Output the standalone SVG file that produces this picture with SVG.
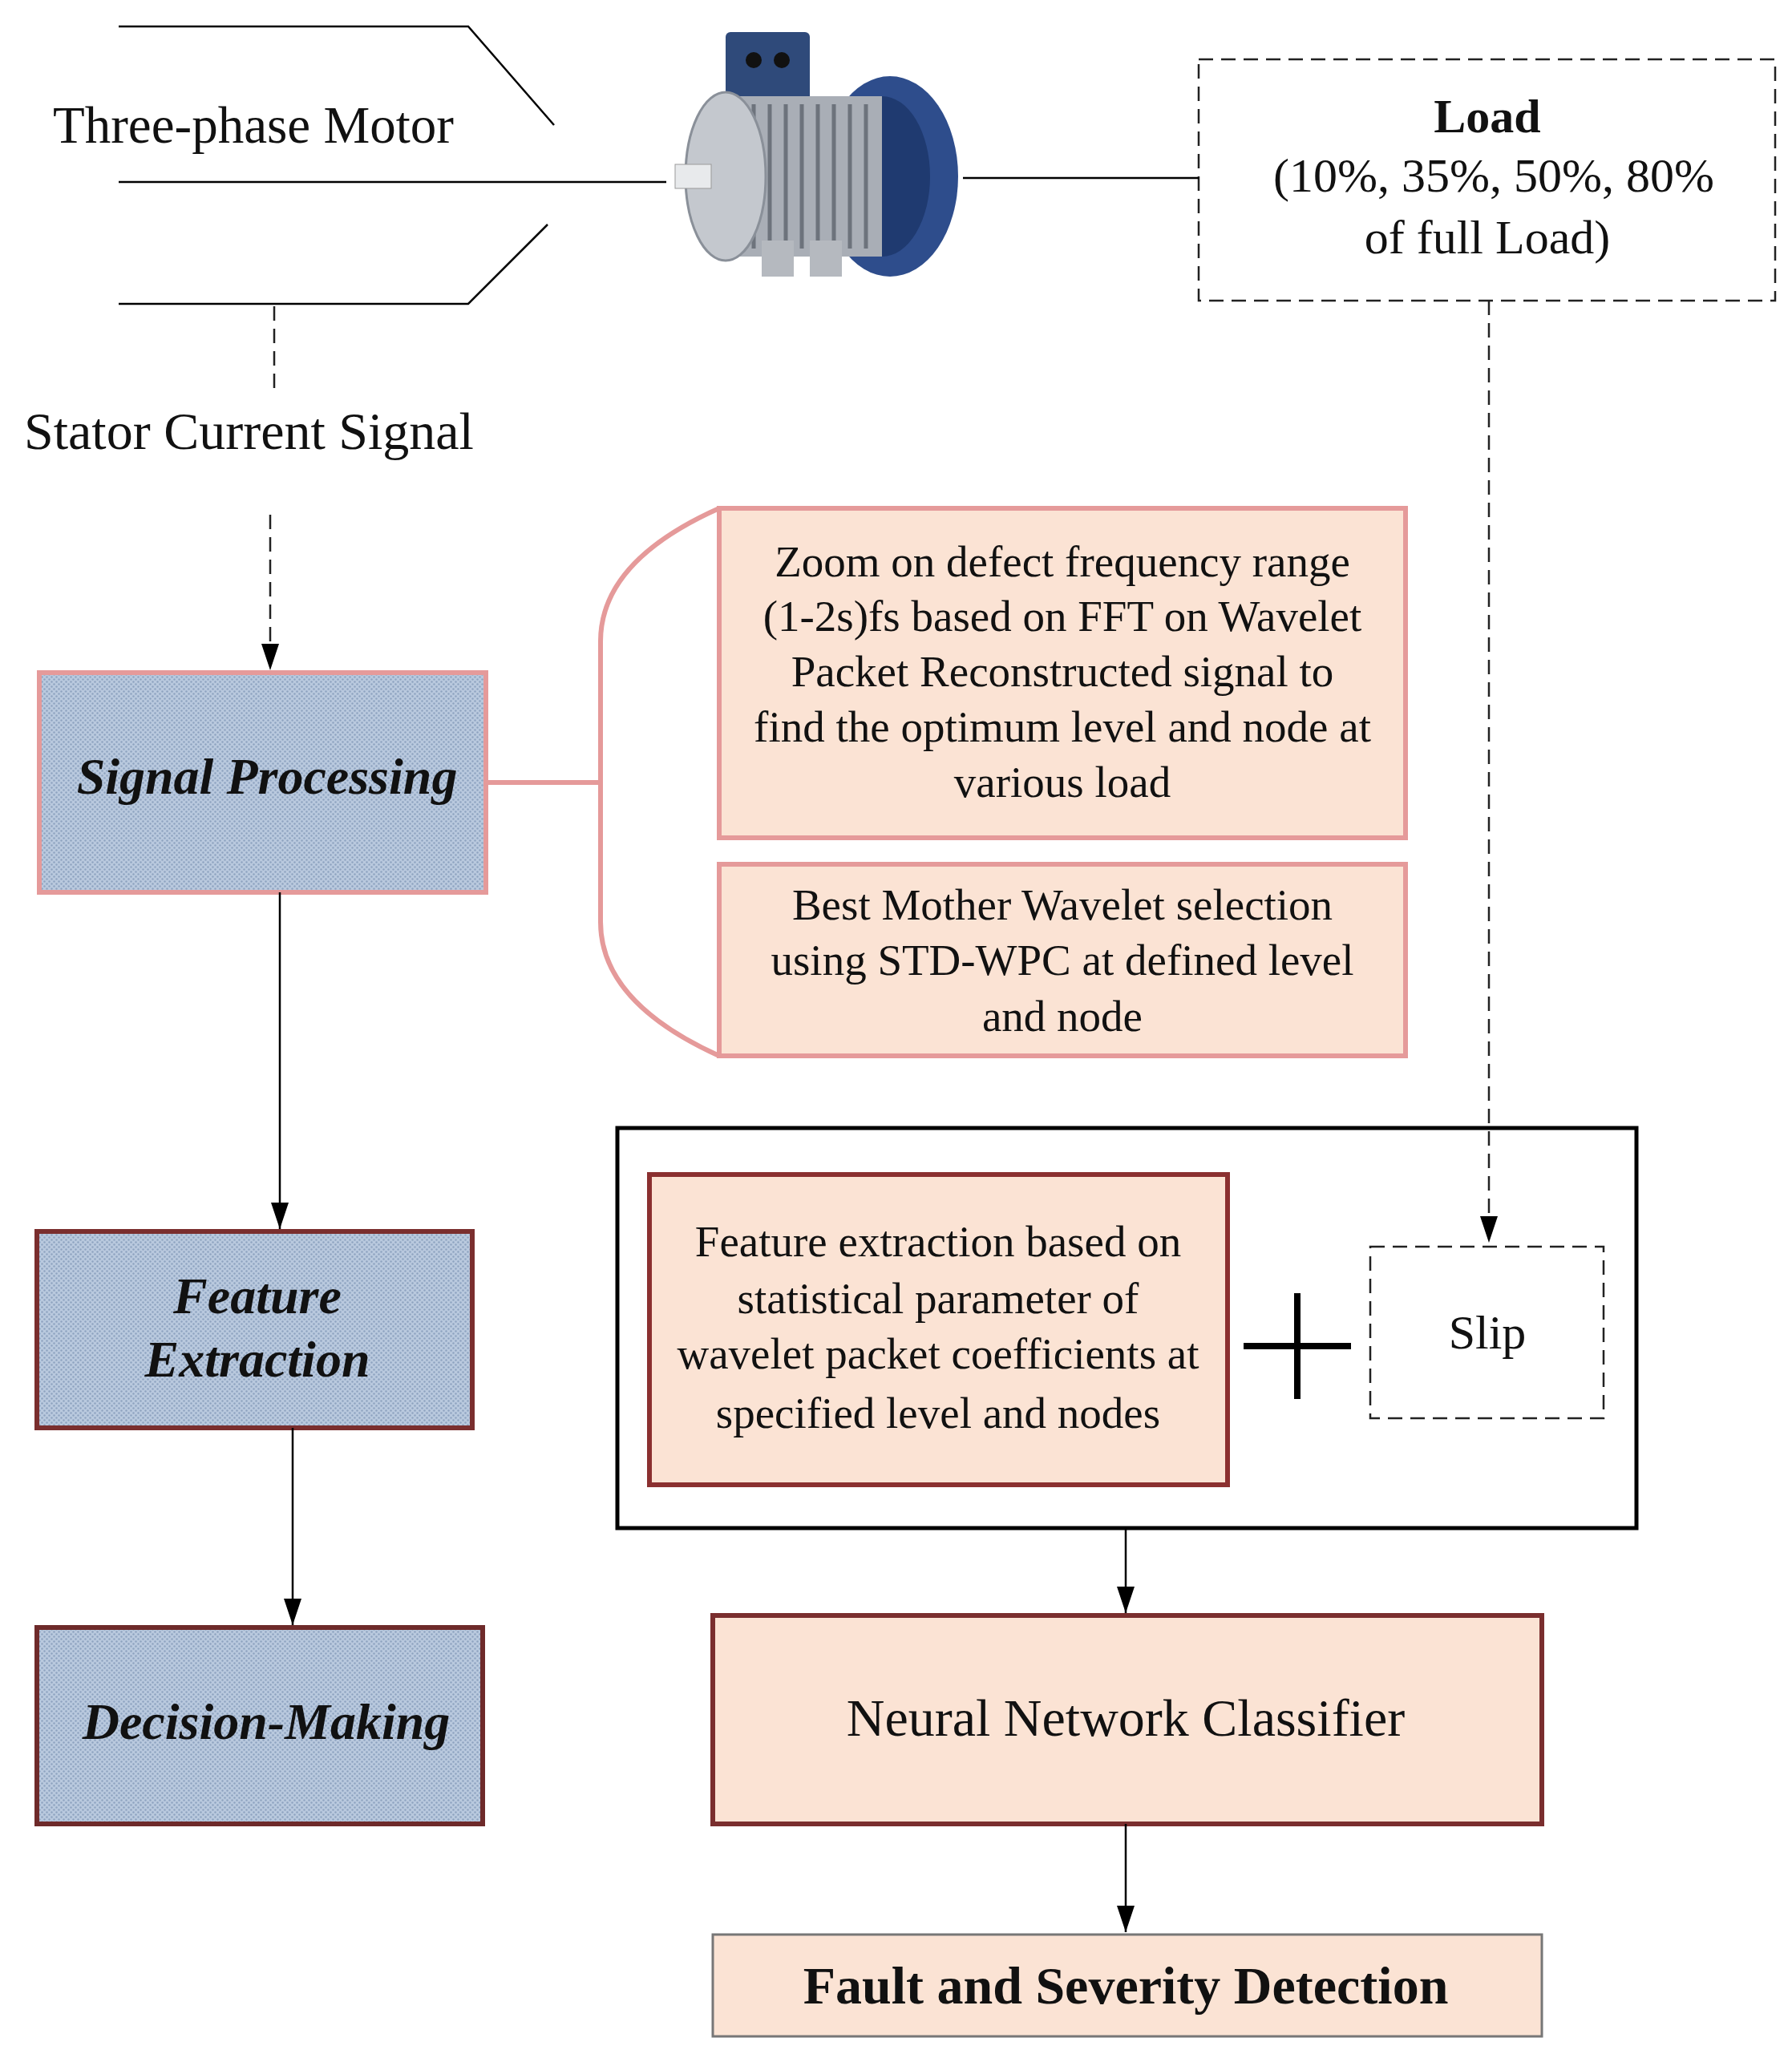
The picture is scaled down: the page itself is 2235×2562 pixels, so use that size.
<svg xmlns="http://www.w3.org/2000/svg" width="2235" height="2562" viewBox="0 0 2235 2562">
<defs>
<pattern id="dots" width="6" height="6" patternUnits="userSpaceOnUse">
<rect width="6" height="6" fill="#b9c9de"/>
<circle cx="1.5" cy="1.5" r="1.2" fill="#8ea3c0"/>
<circle cx="4.5" cy="4.5" r="1.2" fill="#8ea3c0"/>
</pattern>
<marker id="arrB" viewBox="0 0 30 20" refX="30" refY="10" markerWidth="36" markerHeight="22" markerUnits="userSpaceOnUse" orient="auto"><path d="M0,0 L30,10 L0,20 Z" fill="#000"/></marker>
</defs>
<style>
text{font-family:"Liberation Serif","Times New Roman",serif;fill:#111}
.ln{stroke:#000;stroke-width:2.5;fill:none}
.dash{stroke:#222;stroke-width:2.5;fill:none;stroke-dasharray:18 10}
.peach{fill:#fbe3d4}
.blue{fill:url(#dots)}
.t50{font-size:55px;text-anchor:middle}
.t60{font-size:60px;text-anchor:middle}
.t66{font-size:66px;text-anchor:middle}
.bi{font-size:64px;font-weight:bold;font-style:italic;text-anchor:middle}
</style>
<rect width="2235" height="2562" fill="#fff"/>

<g id="wires">
<path class="ln" d="M148,33 H584 L691,156"/>
<path class="ln" d="M148,227 H831"/>
<path class="ln" d="M148,379 H584 L683,280"/>
<text x="66" y="178" font-size="65">Three-phase Motor</text>
</g>

<g id="motor">
<rect x="905" y="40" width="105" height="90" rx="6" fill="#2f4a7a"/>
<circle cx="940" cy="75" r="10" fill="#111"/><circle cx="975" cy="75" r="10" fill="#111"/>
<ellipse cx="1110" cy="220" rx="85" ry="125" fill="#2e4d8c"/>
<ellipse cx="1100" cy="220" rx="60" ry="100" fill="#1f3a70"/>
<rect x="890" y="120" width="210" height="200" fill="#a9aeb6"/>
<g stroke="#6d737c" stroke-width="5">
<line x1="900" y1="130" x2="900" y2="310"/><line x1="920" y1="130" x2="920" y2="310"/><line x1="940" y1="130" x2="940" y2="310"/><line x1="960" y1="130" x2="960" y2="310"/><line x1="980" y1="130" x2="980" y2="310"/><line x1="1000" y1="130" x2="1000" y2="310"/><line x1="1020" y1="130" x2="1020" y2="310"/><line x1="1040" y1="130" x2="1040" y2="310"/><line x1="1060" y1="130" x2="1060" y2="310"/><line x1="1080" y1="130" x2="1080" y2="310"/>
</g>
<ellipse cx="905" cy="220" rx="50" ry="105" fill="#c4c8ce" stroke="#8a9099" stroke-width="3"/>
<rect x="842" y="205" width="45" height="30" fill="#e8eaec" stroke="#999"/>
<rect x="950" y="300" width="40" height="45" fill="#b5b9bf"/><rect x="1010" y="300" width="40" height="45" fill="#b5b9bf"/>
</g>

<g id="load">
<rect x="1495" y="74" width="719" height="301" fill="#fff" class="dash"/>
<text x="1855" y="165" class="t60" font-weight="bold">Load</text>
<text x="1863" y="239" class="t60">(10%, 35%, 50%, 80%</text>
<text x="1855" y="316" class="t60">of full Load)</text>
</g>

<g id="stator">
<text x="30" y="560" font-size="66">Stator Current Signal</text>
</g>

<g id="sp">
<rect x="49" y="839" width="557" height="274" class="blue" stroke="#e59a9a" stroke-width="6"/>
<text x="333" y="990" class="bi">Signal Processing</text>
</g>

<g id="zoombox">
<rect x="897" y="634" width="856" height="411" class="peach" stroke="#e59a9a" stroke-width="6"/>
<text x="1325" y="719" class="t50">Zoom on defect frequency range</text>
<text x="1325" y="787" class="t50">(1-2s)fs  based on FFT on Wavelet</text>
<text x="1325" y="856" class="t50">Packet Reconstructed signal to</text>
<text x="1325" y="925" class="t50">find the optimum level and node at</text>
<text x="1325" y="994" class="t50">various load</text>
</g>

<g id="mother">
<rect x="897" y="1078" width="856" height="239" class="peach" stroke="#e59a9a" stroke-width="6"/>
<text x="1325" y="1147" class="t50">Best Mother Wavelet selection</text>
<text x="1325" y="1216" class="t50">using STD-WPC at defined level</text>
<text x="1325" y="1286" class="t50">and node</text>
</g>

<g id="fe">
<rect x="46" y="1536" width="543" height="245" class="blue" stroke="#7a2e2e" stroke-width="6"/>
<text x="321" y="1638" class="bi">Feature</text>
<text x="321" y="1717" class="bi">Extraction</text>
</g>

<g id="dm">
<rect x="46" y="2030" width="556" height="245" class="blue" stroke="#6e2a2a" stroke-width="6"/>
<text x="332" y="2169" class="bi">Decision-Making</text>
</g>

<g id="group">
<rect x="770" y="1407" width="1271" height="499" fill="#fff" stroke="#000" stroke-width="5"/>
</g>

<g id="featbox">
<rect x="810" y="1465" width="721" height="387" class="peach" stroke="#8b3030" stroke-width="6"/>
<text x="1170" y="1567" class="t50">Feature extraction based on</text>
<text x="1170" y="1638" class="t50">statistical parameter of</text>
<text x="1170" y="1707" class="t50">wavelet packet coefficients at</text>
<text x="1170" y="1781" class="t50">specified level and nodes</text>
</g>

<g id="plus">
<path d="M1618,1613 V1745 M1551,1679 H1685" stroke="#000" stroke-width="8"/>
</g>

<g id="slip">
<rect x="1709" y="1555" width="291" height="214" fill="#fff" class="dash"/>
<text x="1855" y="1682" class="t60">Slip</text>
</g>

<g id="nn">
<rect x="889" y="2015" width="1034" height="260" class="peach" stroke="#7a2e2e" stroke-width="6"/>
<text x="1404" y="2165" class="t66">Neural Network Classifier</text>
</g>

<g id="fault">
<rect x="889" y="2413" width="1034" height="127" class="peach" stroke="#777" stroke-width="3"/>
<text x="1404" y="2499" class="t66" font-weight="bold">Fault and Severity Detection</text>
</g>

<g id="connectors">
<path class="ln" d="M1201,222 H1495"/>
<path class="dash" d="M1857,375 V1550" marker-end="url(#arrB)"/>
<path class="dash" d="M342,382 V494"/>
<path class="dash" d="M337,642 V836" marker-end="url(#arrB)"/>
<path d="M606,976 H749 M897,634 Q749,700 749,800 V1150 Q749,1250 897,1317" fill="none" stroke="#e59a9a" stroke-width="6"/>
<path class="ln" d="M349,1113 V1533" marker-end="url(#arrB)"/>
<path class="ln" d="M365,1781 V2027" marker-end="url(#arrB)"/>
<path class="ln" d="M1404,1906 V2012" marker-end="url(#arrB)"/>
<path class="ln" d="M1404,2275 V2410" marker-end="url(#arrB)"/>
</g>
</svg>
